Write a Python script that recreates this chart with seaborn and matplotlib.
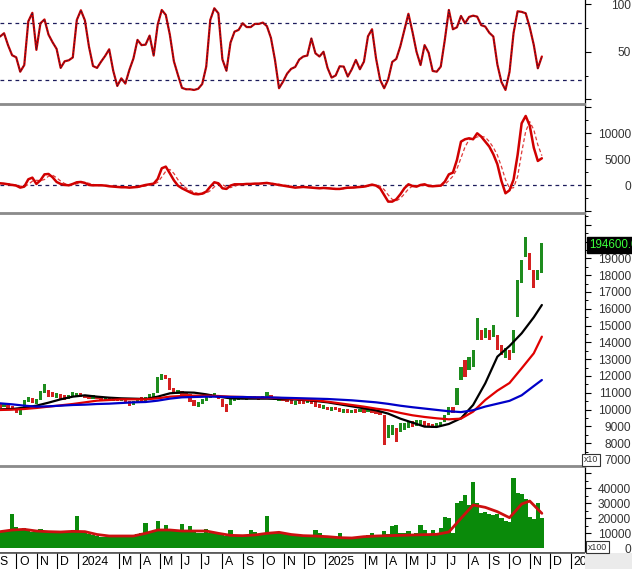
import numpy as np
import pandas as pd
import matplotlib
matplotlib.use("Agg")
import matplotlib.pyplot as plt
import matplotlib.dates as mdates
from matplotlib.transforms import blended_transform_factory, offset_copy
from matplotlib.patches import Rectangle
import seaborn as sns

# ---------------- data ----------------
start_date = "2023-09-07"
step = "6D"

osc = [66, 69.5, 56.8, 46.3, 44.2, 29, 36, 82, 91, 52, 80, 84, 68, 60, 53, 33, 40, 41, 44, 83.5,
       93.7, 83, 55.4, 35, 33, 39.6, 45.6, 52.6, 30, 14, 22, 16.5, 31, 43, 62.5, 57, 57.5, 67, 46, 78.6,
       94, 88.8, 68, 40, 25.6, 12, 10.5, 10.5, 9.8, 11, 16, 34.4, 83.5, 95.8, 90.5, 42, 30, 59.6, 71.2, 73,
       80, 76, 76, 79.3, 79.3, 80.7, 77, 64.6, 41.4, 11.6, 18.6, 27, 32, 34, 41.8,
       45, 46, 64, 48.4, 45, 50, 33, 22.8, 25, 34.7, 34.4, 23.9, 31.6, 41.4, 31.6, 39.6, 66.3, 73.7, 42.8, 20.4,
       11.6, 21, 39.3, 42.5, 55.8, 73, 90, 71, 50, 36, 57, 49, 29.8, 29, 34.4, 62.5, 94, 73.7, 75.8, 87.7,
       80, 86.7, 88, 87, 78, 76.5, 70, 66, 36.5, 18.2, 9.8, 28.8, 69.8, 92.6, 92, 90.5, 75.8, 57.2, 32.6, 45]

macd = [385, 320, 190, 60, -60, -450, -260, 1150, 1470, 260, 960, 2100, 2180, 1540, 640, 260, 60, 0, 260, 580,
        640, 450, 60, 0, 0, 0, -60, -190, -260, -320, -380, -380, -450, -380, -320, -130, 60, 190, 320, 1220,
        3270, 3590, 2300, 960, -60, -580, -960, -1350, -1670, -1730, -1600, -1220, -260, 580, 385, -580, -700, -60, 190, 190,
        190, 260, 260, 320, 320, 385, 450, 320, 190, 60, -60, -190, -320, -450, -380, -320, -380, -450, -510, -580,
        -510, -580, -640, -700, -700, -580, -450, -450, -380, -320, -260, -60, 130, -60, -580, -1860, -3140, -3140, -2690, -1730,
        -580, 190, -130, -260, 60, 190, -130, -190, -130, -60, 700, 2100, 2440, 4870, 8400, 8850, 9040, 8850, 10000, 9360,
        8400, 7440, 5960, 4040, 830, -1540, -960, 1090, 5830, 11920, 13330, 11470, 7240, 4680, 5190]

macd_signal = [350, 340, 300, 190, 60, -150, -260, 150, 790, 960, 900, 1110, 1750, 1940, 1450, 810, 320, 110, 110, 280,
               490, 560, 380, 170, 20, 0, -20, -80, -170, -260, -320, -360, -400, -400, -380, -280, -130, 40, 190, 580,
               1600, 2690, 3050, 2280, 1070, 110, -530, -960, -1330, -1580, -1670, -1520, -1030, -300, 240, 130, -300, -450, -190, 110,
               190, 210, 240, 280, 300, 340, 390, 380, 320, 190, 60, -60, -190, -320, -380, -380, -360, -380, -450, -510,
               -530, -560, -580, -640, -680, -660, -580, -490, -430, -380, -320, -210, -60, 0, -170, -830, -1860, -2710, -2990, -2520,
               -1670, -710, -170, -70, -110, 0, 40, -40, -150, -130, 170, 910, 1750, 3140, 5240, 7370, 8760, 8910, 9300, 9400,
               9250, 8400, 7270, 5810, 3610, 1110, -560, -470, 1660, 6280, 10360, 12240, 10680, 7800, 5700]

price_low = [10075, 10134, 10075, 9976, 9817, 9678, 10174, 10471, 10372, 10332,
             10570, 10967, 10769, 10729, 10670, 10610, 10570, 10610, 10769, 10808,
             10769, 10690, 10650, 10650, 10610, 10531, 10491, 10491, 10531, 10491,
             10491, 10412, 10213, 10273, 10412, 10451, 10491, 10610, 10670, 10967,
             11760, 11800, 11165, 10967, 10927, 10868, 10808, 10471, 10213, 10134,
             10332, 10491, 10670, 10729, 10610, 10174, 9876, 10273, 10531, 10570,
             10610, 10570, 10610, 10610, 10570, 10610, 10670, 10610, 10570, 10531,
             10531, 10451, 10332, 10293, 10332, 10332, 10372, 10332, 10134, 10075,
             10015, 9976, 9936, 9976, 9876, 9817, 9817, 9777, 9817, 9837,
             9817, 9857, 9777, 9737, 9678, 7893, 8290, 8488, 8092, 8687,
             8786, 8885, 8984, 9024, 9083, 8984, 8945, 8905, 8945, 9024,
             9281, 9678, 9817, 10275, 11762, 11960, 12356, 12555, 14141, 14141,
             14240, 14141, 14340, 13547, 13249, 13051, 12951, 13348, 15530, 17512,
             19099, 18306, 17215, 17711, 18108]

price_high = [10372, 10332, 10273, 10213, 10075, 9976, 10570, 10769, 10670, 10610,
              11126, 11503, 11165, 11066, 11007, 10927, 10848, 10888, 11027, 11007,
              10967, 10888, 10848, 10848, 10808, 10769, 10729, 10729, 10729, 10690,
              10690, 10650, 10491, 10531, 10690, 10729, 10769, 10927, 10967, 11959,
              12117, 12077, 11859, 11264, 11165, 11126, 11046, 10927, 10570, 10451,
              10650, 10808, 10927, 10967, 10868, 10610, 10332, 10610, 10769, 10808,
              10808, 10769, 10808, 10808, 10769, 10808, 11066, 10888, 10769, 10729,
              10729, 10650, 10570, 10531, 10570, 10570, 10570, 10531, 10451, 10332,
              10253, 10174, 10174, 10174, 10114, 10055, 10015, 9976, 10015, 10035,
              10015, 10055, 10015, 9976, 9936, 9678, 9083, 9083, 8885, 9182,
              9222, 9281, 9341, 9380, 9380, 9321, 9182, 9143, 9182, 9262,
              9678, 10174, 10174, 11300, 12555, 12951, 13150, 13546, 15430, 14736,
              14835, 14736, 15034, 14439, 13844, 13646, 13547, 14736, 17711, 18900,
              20289, 19297, 18306, 18306, 19892]

candle_dir = ("rgrrrgggrg" "ggrrgrrggg" "rrrgrrgrgr" "grrggrgggg" "grrrgrrrrg"
              "ggggrrrggg" "rgrgrggrrg" "rrrgrrgrrr" "grgrrgrgrg" "rgrrrrggrg"
              "ggrggrrrgg" "ggrggrgggr" "grgrrgrggg" "grrgg")

volume = [10890, 11560, 12000, 23000, 14000, 12220, 13560, 12890, 10890, 10450,
          12890, 10450, 10220, 10450, 10220, 10450, 10220, 11330, 12220, 21340,
          11560, 9780, 9330, 8670, 8000, 7560, 7560, 7560, 8000, 7560,
          7560, 8000, 7560, 8000, 9330, 10220, 16440, 10890, 11560, 17780,
          12220, 15110, 11560, 11330, 11330, 16000, 12000, 14670, 12220, 10220,
          10220, 12440, 9780, 9780, 9330, 8670, 8000, 12220, 8000, 8000,
          8000, 8670, 12220, 10890, 8670, 9330, 21340, 10220, 9780, 9780,
          9330, 9330, 8670, 8000, 8000, 8220, 8220, 8670, 12000, 10220,
          7560, 7110, 6890, 7110, 9780, 6670, 6890, 6890, 7110, 7560,
          7560, 8670, 9780, 8440, 8670, 11330, 9330, 14670, 15110, 9780,
          10220, 11330, 9330, 9780, 15330, 12220, 9330, 12220, 9330, 13560,
          21000, 20200, 9780, 30000, 31500, 35300, 28700, 44000, 30200, 23110,
          24200, 22700, 22000, 22700, 19800, 18200, 17560, 46400, 36400, 36000,
          32400, 20900, 19100, 30000, 19800]

ma_idx = list(range(0, 133, 3)) + [134]
ma_black = [10015, 10035, 10114, 10233, 10412, 10610, 10769, 10848, 10769, 10709,
            10670, 10650, 10630, 10769, 10967, 11027, 11007, 10908, 10769, 10670,
            10650, 10650, 10650, 10630, 10610, 10570, 10511, 10431, 10313, 10194,
            10075, 9956, 9759, 9461, 9224, 8985, 8966, 9144, 9481, 10275,
            11563, 13149, 13784, 14538, 15490, 16223]
ma_red = [9976, 9995, 10035, 10095, 10174, 10253, 10332, 10431, 10531, 10570,
          10610, 10610, 10610, 10670, 10769, 10808, 10828, 10828, 10808, 10769,
          10749, 10729, 10709, 10690, 10650, 10590, 10551, 10471, 10372, 10273,
          10174, 10055, 9960, 9800, 9660, 9560, 9480, 9420, 9461, 9878,
          10572, 11127, 11583, 12456, 13348, 14339]
ma_blue = [10372, 10313, 10233, 10174, 10194, 10233, 10273, 10293, 10332, 10352,
           10392, 10431, 10451, 10531, 10650, 10729, 10749, 10769, 10769, 10749,
           10749, 10729, 10729, 10709, 10690, 10670, 10650, 10630, 10590, 10551,
           10491, 10431, 10340, 10230, 10140, 10060, 9980, 9900, 9850, 9960,
           10180, 10350, 10520, 10850, 11400, 11760]

vma_idx = list(range(0, 130, 3)) + [131, 134]
vol_ma = [10890, 12000, 12440, 11330, 10890, 10670, 11100, 10900, 9000, 8000,
          8000, 8000, 9780, 12000, 12000, 11330, 11330, 11330, 9780, 8440,
          8220, 8670, 9780, 10450, 9000, 8220, 8000, 7560, 6890, 6670,
          7560, 8000, 8220, 8440, 8670, 8890, 9110, 10670, 19780, 28670,
          27100, 24200, 20200, 29300, 31300, 23100]

last_price_text = "194600.0"
month_labels = ["S", "O", "N", "D", "2024", "", "M", "A", "M", "J", "J", "A", "S", "O", "N", "D",
                "2025", "", "M", "A", "M", "J", "J", "A", "S", "O", "N", "D", "2026"]

osc_ticks, osc_labels = [0, 50, 100], ["", "50", "100"]
macd_ticks, macd_labels = [-5000, 0, 5000, 10000, 15000], ["", "0", "5000", "10000", ""]
price_ticks = list(range(7000, 21001, 1000))
price_labels = [str(v) for v in range(7000, 20001, 1000)] + [""]
vol_ticks, vol_labels = [0, 10000, 20000, 30000, 40000, 50000], ["0", "10000", "20000", "30000", "40000", ""]

# ---------------- style ----------------
sns.set_theme(style="white")
plt.rcParams["font.family"] = ["Liberation Sans", "DejaVu Sans"]

dates = pd.date_range(start_date, periods=len(osc), freq=step)
xnum = mdates.date2num(dates)
ma_dates = dates[ma_idx]
vma_dates = dates[vma_idx]
months = pd.date_range("2023-09-01", periods=len(month_labels), freq="MS")
x_lo = mdates.date2num(pd.Timestamp("2023-09-07"))
x_hi = mdates.date2num(pd.Timestamp("2026-01-22"))

W, H = 632, 569
fig = plt.figure(figsize=(W / 100, H / 100), dpi=100)
fig.patch.set_facecolor("white")


def px_axes(top, bottom, left=0, right=585):
    return fig.add_axes([left / W, 1 - bottom / H, (right - left) / W, (bottom - top) / H])


ax1 = px_axes(0, 104)
ax2 = px_axes(105, 213)
ax3 = px_axes(214, 466)
ax4 = px_axes(467, 553)
axd = px_axes(553, 569)

lab_color = "#333333"
for ax, ticks, labels, minor in [(ax1, osc_ticks, osc_labels, [25, 75]),
                                 (ax2, macd_ticks, macd_labels, list(range(-5000, 15001, 2500))),
                                 (ax3, price_ticks, price_labels, list(range(6500, 21501, 500))),
                                 (ax4, vol_ticks, vol_labels, list(range(0, 55001, 5000)))]:
    ax.set_xlim(x_lo, x_hi)
    ax.set_facecolor("white")
    ax.yaxis.tick_right()
    ax.set_yticks(ticks)
    ax.set_yticklabels(labels, ha="right")
    ax.set_yticks(minor, minor=True)
    ax.tick_params(axis="y", which="major", direction="out", length=4.5, width=0.8,
                   pad=28.5, labelsize=8.6, labelcolor=lab_color, color="black", right=True, left=False)
    ax.tick_params(axis="y", which="minor", direction="out", length=2.5, width=0.7,
                   color="black", right=True, left=False)
    ax.set_xticks([])
    ax.spines["left"].set_visible(False)
    ax.spines["right"].set_color("black")
    ax.spines["right"].set_linewidth(0.9)
    for s in ("top", "bottom"):
        ax.spines[s].set_color("#8a8a8a")
        ax.spines[s].set_linewidth(1.3)
    ax.grid(False)
ax1.spines["top"].set_visible(False)

# ---- panel 1: oscillator ----
ax1.set_ylim(-5, 104.5)
for lvl in (80, 20):
    ax1.axhline(lvl, color="#1c1c5c", lw=0.9, dashes=(3, 3), zorder=1)
sns.lineplot(x=dates, y=osc, ax=ax1, color="#cc0000", lw=1.6, zorder=3)
sns.lineplot(x=dates, y=osc, ax=ax1, color="#2a1a3a", lw=0.6, linestyle=(0, (2, 2)), zorder=4)

# ---- panel 2: MACD ----
ax2.set_ylim(-5330, 15440)
ax2.axhline(0, color="#1c1c5c", lw=0.9, dashes=(3, 3), zorder=1)
sns.lineplot(x=dates, y=macd_signal, ax=ax2, color="#e03a3a", lw=0.9, linestyle=(0, (3, 2)), zorder=2)
sns.lineplot(x=dates, y=macd, ax=ax2, color="#d00000", lw=1.8, zorder=3)

# ---- panel 3: price ----
ax3.set_ylim(6643, 21637)
lo = np.array(price_low, dtype=float)
hi = np.array(price_high, dtype=float)
ccols = ["#1e8c1e" if c == "g" else "#d42020" for c in candle_dir]
ax3.bar(xnum, hi - lo, bottom=lo, width=4.8, color=ccols, linewidth=0, zorder=2)
sns.lineplot(x=ma_dates, y=ma_black, ax=ax3, color="black", lw=1.6, zorder=3)
sns.lineplot(x=ma_dates, y=ma_red, ax=ax3, color="#e00000", lw=1.6, zorder=4)
sns.lineplot(x=ma_dates, y=ma_blue, ax=ax3, color="#0000c8", lw=1.6, zorder=5)

# ---- panel 4: volume ----
ax4.set_ylim(-3333, 54000)
ax4.bar(xnum, volume, width=6.2, color="#0a8a0a", linewidth=0, zorder=2)
sns.lineplot(x=vma_dates, y=vol_ma, ax=ax4, color="#cc1010", lw=2.0, zorder=3)

for ax in (ax1, ax2, ax3, ax4):
    ax.set_xlim(x_lo, x_hi)
    ax.set_xticks([])
    ax.set_xlabel("")
    ax.set_ylabel("")

# ---- date row ----
axd.set_xlim(x_lo, x_hi)
axd.set_ylim(0, 1)
axd.set_xticks([])
axd.set_yticks([])
for s in ("left", "right", "bottom"):
    axd.spines[s].set_visible(False)
axd.spines["top"].set_color("#505050")
axd.spines["top"].set_linewidth(1.2)
btrans = blended_transform_factory(axd.transData, axd.transAxes)
ttrans = offset_copy(btrans, fig=fig, x=3, y=0, units="dots")
for m, lab in zip(months, month_labels):
    if not lab:
        continue
    mx = mdates.date2num(m)
    axd.plot([mx, mx], [0, 1], transform=btrans, color="black", lw=0.8, clip_on=True)
    axd.text(mx, 0.45, lab, transform=ttrans, ha="left", va="center", fontsize=8.8,
             color="black", clip_on=True)

# gray corner
fig.patches.append(Rectangle((585 / W, 0), 47 / W, 16 / H, transform=fig.transFigure,
                             facecolor="#ebebeb", edgecolor="none", zorder=0))

# last price box
fig.text(589 / W, 1 - 245 / H, last_price_text, color="#3cff3c", fontsize=8.4,
         ha="left", va="center",
         bbox=dict(facecolor="black", edgecolor="black", boxstyle="square,pad=0.18"))
# multiplier boxes
fig.text(584 / W, 1 - 460 / H, "x10", color="#333333", fontsize=6.3, ha="left", va="center",
         bbox=dict(facecolor="white", edgecolor="#333333", boxstyle="square,pad=0.2", lw=0.8))
fig.text(588 / W, 1 - 547 / H, "x100", color="#333333", fontsize=6.3, ha="left", va="center",
         bbox=dict(facecolor="white", edgecolor="#333333", boxstyle="square,pad=0.2", lw=0.8))

fig.savefig("out.png", dpi=100, facecolor="white")
